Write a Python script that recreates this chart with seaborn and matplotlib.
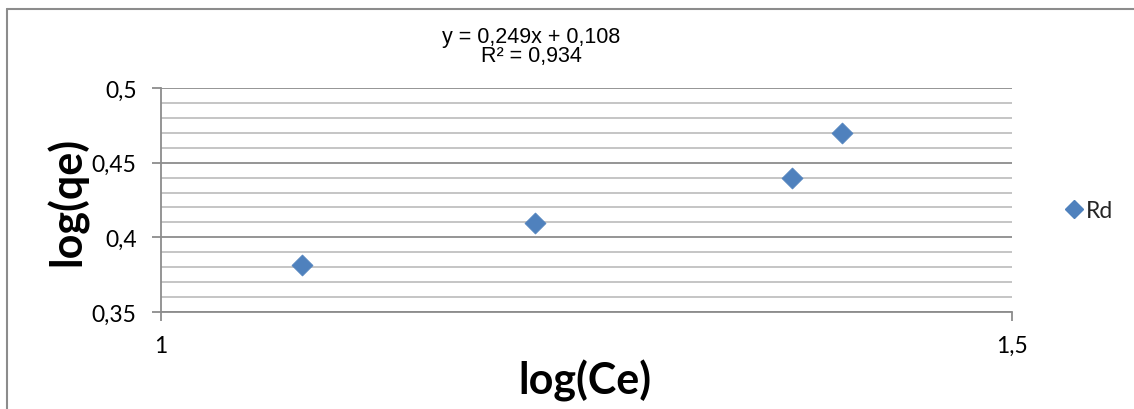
import matplotlib
matplotlib.use("Agg")
import matplotlib.pyplot as plt
import seaborn as sns
import pandas as pd
from matplotlib.ticker import FixedLocator, MultipleLocator, FixedFormatter
from matplotlib.lines import Line2D

# ---- data ----
log_ce = [1.083, 1.220, 1.371, 1.400]
log_qe = [0.3815, 0.4096, 0.4397, 0.4699]
series_name = "Rd"
x_ticks = [1.0, 1.5]
x_tick_labels = ["1", "1,5"]
y_ticks = [0.35, 0.40, 0.45, 0.50]
y_tick_labels = ["0,35", "0,4", "0,45", "0,5"]
eq_line1 = "y = 0,249x + 0,108"
eq_line2 = "R² = 0,934"

df = pd.DataFrame({"log(Ce)": log_ce, "log(qe)": log_qe, "serie": series_name})

sns.set_theme(style="white")
plt.rcParams["font.family"] = ["Lato", "DejaVu Sans"]

W, H = 1134, 410
fig = plt.figure(figsize=(W / 100, H / 100), dpi=100)
ax = fig.add_axes([161 / W, 1 - 313 / H, (1012 - 161) / W, (313 - 89) / H])

blue = "#4F81BD"
sns.scatterplot(data=df, x="log(Ce)", y="log(qe)", ax=ax, marker="D", s=115,
                color=blue, edgecolor=blue, linewidth=0.5, legend=False, zorder=5)

ax.set_xlim(1.0, 1.5)
ax.set_ylim(0.35, 0.50)

ax.xaxis.set_major_locator(FixedLocator(x_ticks))
ax.xaxis.set_major_formatter(FixedFormatter(x_tick_labels))
ax.yaxis.set_major_locator(FixedLocator(y_ticks))
ax.yaxis.set_major_formatter(FixedFormatter(y_tick_labels))
ax.yaxis.set_minor_locator(MultipleLocator(0.01))

ax.grid(False)
ax.grid(axis="y", which="major", color="#8C8C8C", linewidth=1.3)
ax.grid(axis="y", which="minor", color="#C0C0C0", linewidth=1.3)
ax.set_axisbelow(True)

for side in ["top", "right"]:
    ax.spines[side].set_visible(False)
for side in ["left", "bottom"]:
    ax.spines[side].set_color("#8C8C8C")
    ax.spines[side].set_linewidth(1.3)

ax.tick_params(axis="both", which="major", direction="out", length=6.5, width=1.3,
               color="#8C8C8C", labelsize=16.5, labelcolor="black",
               left=True, bottom=True)
ax.tick_params(axis="y", which="major", pad=11)
ax.tick_params(axis="x", which="major", pad=10)
ax.tick_params(axis="both", which="minor", length=0)

ax.set_xlabel("log(Ce)", fontsize=31, fontweight="bold", color="black")
ax.set_ylabel("log(qe)", fontsize=31, fontweight="bold", color="black")
ax.xaxis.set_label_coords((585 - 161) / 851, (313 - 381) / 224)
ax.xaxis.label.set_verticalalignment("center")
ax.yaxis.set_label_coords((67 - 161) / 851, 0.5)
ax.yaxis.label.set_verticalalignment("center")

# trendline equation text
fig.text(531 / W, 1 - 47 / H, eq_line1 + "\n" + eq_line2, ha="center", va="center",
         fontsize=15.5, linespacing=0.88,
         family=["Liberation Sans", "DejaVu Sans"], color="black")

# legend
handle = Line2D([], [], marker="D", linestyle="none", markersize=9,
                markerfacecolor=blue, markeredgecolor=blue)
fig.legend([handle], [series_name], loc="center left",
           bbox_to_anchor=(1052 / W, 1 - 212 / H), frameon=False,
           fontsize=16.5, handletextpad=0.1, borderpad=0, handlelength=0.9)

# outer chart border (left and top visible)
fig.add_artist(Line2D([7 / W, 7 / W], [0, 1 - 10 / H], color="#8C8C8C",
                      linewidth=1.5, transform=fig.transFigure))
fig.add_artist(Line2D([7 / W, 1], [1 - 10 / H, 1 - 10 / H], color="#8C8C8C",
                      linewidth=1.5, transform=fig.transFigure))

fig.savefig("out.png", dpi=100)
